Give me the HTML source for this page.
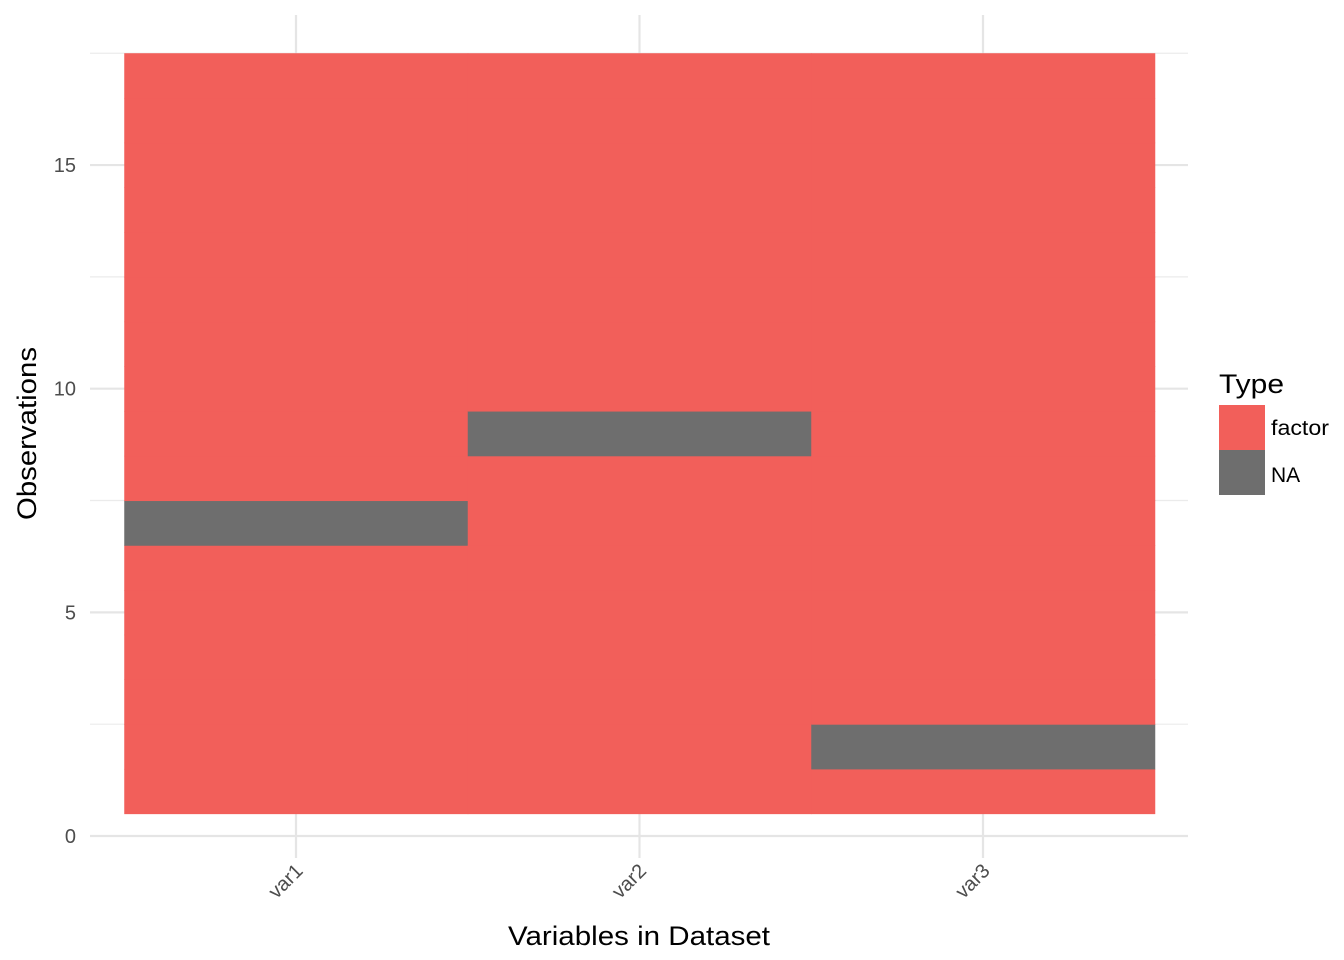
<!DOCTYPE html>
<html><head><meta charset="utf-8"><style>
html,body{margin:0;padding:0;background:#fff;}
svg{display:block;font-family:"Liberation Sans",Arial,sans-serif;}
</style></head><body>
<svg id="chart" width="1344" height="960" viewBox="0 0 1344 960">
<g id="grid"></g>
<g id="tiles"></g>
<g id="axes"></g>
<text x="508" y="945" textLength="262" lengthAdjust="spacingAndGlyphs" font-size="27" fill="#000">Variables in Dataset</text>
<text transform="translate(36,520) rotate(-90)" textLength="173" lengthAdjust="spacingAndGlyphs" font-size="27" fill="#000">Observations</text>
<g>
<text x="1219" y="393" textLength="65" lengthAdjust="spacingAndGlyphs" font-size="27" fill="#000">Type</text>
<rect x="1219" y="405" width="46" height="45" fill="#f25f5a"/>
<text x="1271" y="435" textLength="58" lengthAdjust="spacingAndGlyphs" font-size="21" fill="#000">factor</text>
<rect x="1219" y="450" width="46" height="45" fill="#6e6e6e"/>
<text x="1271" y="482" font-size="21" fill="#000">NA</text>
</g>
</svg>
<script>
const categories = ["var1","var2","var3"];
const nRows = 17;
const naRows = [[7],[9],[2]];
const yTicks = [0,5,10,15];
const yMinor = [2.5,7.5,12.5,17.5];

const NS="http://www.w3.org/2000/svg";
const x0=296, xStep=343.5, y0=836, yUnit=44.73;
const xs=i=>x0+i*xStep;
const ys=v=>y0-v*yUnit;
function mk(tag,attrs,parent){const e=document.createElementNS(NS,tag);for(const k in attrs)e.setAttribute(k,attrs[k]);parent.appendChild(e);return e;}
const grid=document.getElementById('grid'), tiles=document.getElementById('tiles'), axes=document.getElementById('axes');

yMinor.forEach(v=>{const l=mk('line',{x1:90,x2:1188,y1:ys(v),y2:ys(v),stroke:'#ebebeb','stroke-width':1.2},grid);

});
yTicks.forEach(v=>{const l=mk('line',{x1:90,x2:1188,y1:ys(v),y2:ys(v),stroke:'#e5e5e5','stroke-width':2.2},grid);


const t=mk('text',{x:76,y:ys(v)+7,'text-anchor':'end','font-size':20,fill:'#4d4d4d'},axes);t.textContent=v;

});
categories.forEach((c,i)=>{const l=mk('line',{x1:xs(i),x2:xs(i),y1:15,y2:858,stroke:'#e5e5e5','stroke-width':2.2},grid);


const t=mk('text',{transform:`translate(${xs(i)+8},${872}) rotate(-45)`,'text-anchor':'end','font-size':20,fill:'#4d4d4d'},axes);t.textContent=c;

});
categories.forEach((c,i)=>{
 for(let r=1;r<=nRows;r++){
  const na=naRows[i].includes(r);
  const rc=mk('rect',{x:xs(i)-xStep/2,y:ys(r+0.5),width:xStep+0.5,height:yUnit+0.5,fill:na?'#6e6e6e':'#f25f5a'},tiles);
  
  
 }
});
</script>
</body></html>
